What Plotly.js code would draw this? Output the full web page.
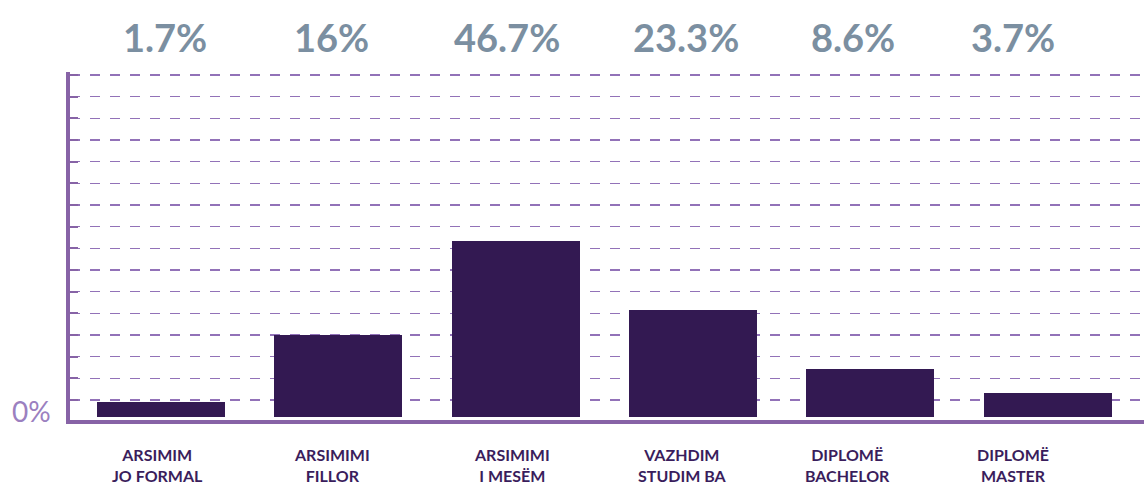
<!DOCTYPE html>
<html>
<head>
<meta charset="utf-8">
<script src="https://cdn.plot.ly/plotly-3.0.1.min.js"></script>
<style>
  html, body { margin: 0; padding: 0; background: #ffffff; }
  #chart { width: 1144px; height: 484px; }
</style>
</head>
<body>
<div id="chart"></div>
<script>
// ---- data ----
const categories = [
  "ARSIMIM<br>JO FORMAL",
  "ARSIMIMI<br>FILLOR",
  "ARSIMIMI<br>I MESËM",
  "VAZHDIM<br>STUDIM BA",
  "DIPLOMË<br>BACHELOR",
  "DIPLOMË<br>MASTER"
];
const shareLabels = ["1.7%", "16%", "46.7%", "23.3%", "8.6%", "3.7%"];
// bar heights as drawn in the picture, in gridline units
const barHeights = [0.69, 3.78, 8.12, 4.94, 2.22, 1.11];
const zeroLabel = "0%";

// ---- style / layout constants ----
const topLabelShift = [4, -7, -9, -7, -17, -35];
const catLabelShift = [-3, -6, -4, -11, -23, -35];
const idx = categories.map((_, i) => i);

const barTrace = {
  type: "bar",
  x: idx,
  y: barHeights,
  width: 0.7215,
  marker: { color: "#331952", line: { width: 0 } },
  hoverinfo: "skip"
};

const annotations = [];
idx.forEach(i => {
  annotations.push({
    x: i, xref: "x", y: 1.1006, yref: "paper",
    xanchor: "center", yanchor: "middle",
    xshift: topLabelShift[i],
    text: shareLabels[i], showarrow: false,
    font: { family: "Lato, sans-serif", size: 38, color: "#7b8fa1", weight: 700 }
  });
  annotations.push({
    x: i, xref: "x", y: -0.128, yref: "paper",
    xanchor: "center", yanchor: "middle",
    xshift: catLabelShift[i],
    text: "<b>" + categories[i] + "</b>", showarrow: false,
    font: { family: "Lato, sans-serif", size: 16, color: "#3a1d5c" }
  });
});
annotations.push({
  x: -0.0363, xref: "paper", y: 0.026, yref: "paper",
  xanchor: "center", yanchor: "middle",
  text: zeroLabel, showarrow: false,
  font: { family: "Lato, sans-serif", size: 28, color: "#9b80c0", weight: 400 }
});

const layout = {
  width: 1144, height: 484,
  margin: { l: 70, r: 0, t: 72, b: 64, pad: 0 },
  paper_bgcolor: "#ffffff",
  plot_bgcolor: "#ffffff",
  showlegend: false,
  bargap: 0,
  xaxis: {
    range: [-0.512, 5.542],
    showgrid: false, zeroline: false,
    showticklabels: false, ticks: "",
    showline: true, linecolor: "#8763a6", linewidth: 4,
    fixedrange: true
  },
  yaxis: {
    range: [-0.138, 15.92],
    tickmode: "linear", tick0: 0.785, dtick: 1,
    showgrid: true, gridcolor: "#9272b8", gridwidth: 1.5, griddash: "10px,10px",
    zeroline: false,
    showticklabels: false,
    ticks: "inside", ticklen: 8, tickwidth: 2, tickcolor: "#8763a6",
    showline: true, linecolor: "#8763a6", linewidth: 4,
    fixedrange: true
  },
  annotations: annotations
};

Plotly.newPlot("chart", [barTrace], layout, { displayModeBar: false, staticPlot: true });
</script>
</body>
</html>
